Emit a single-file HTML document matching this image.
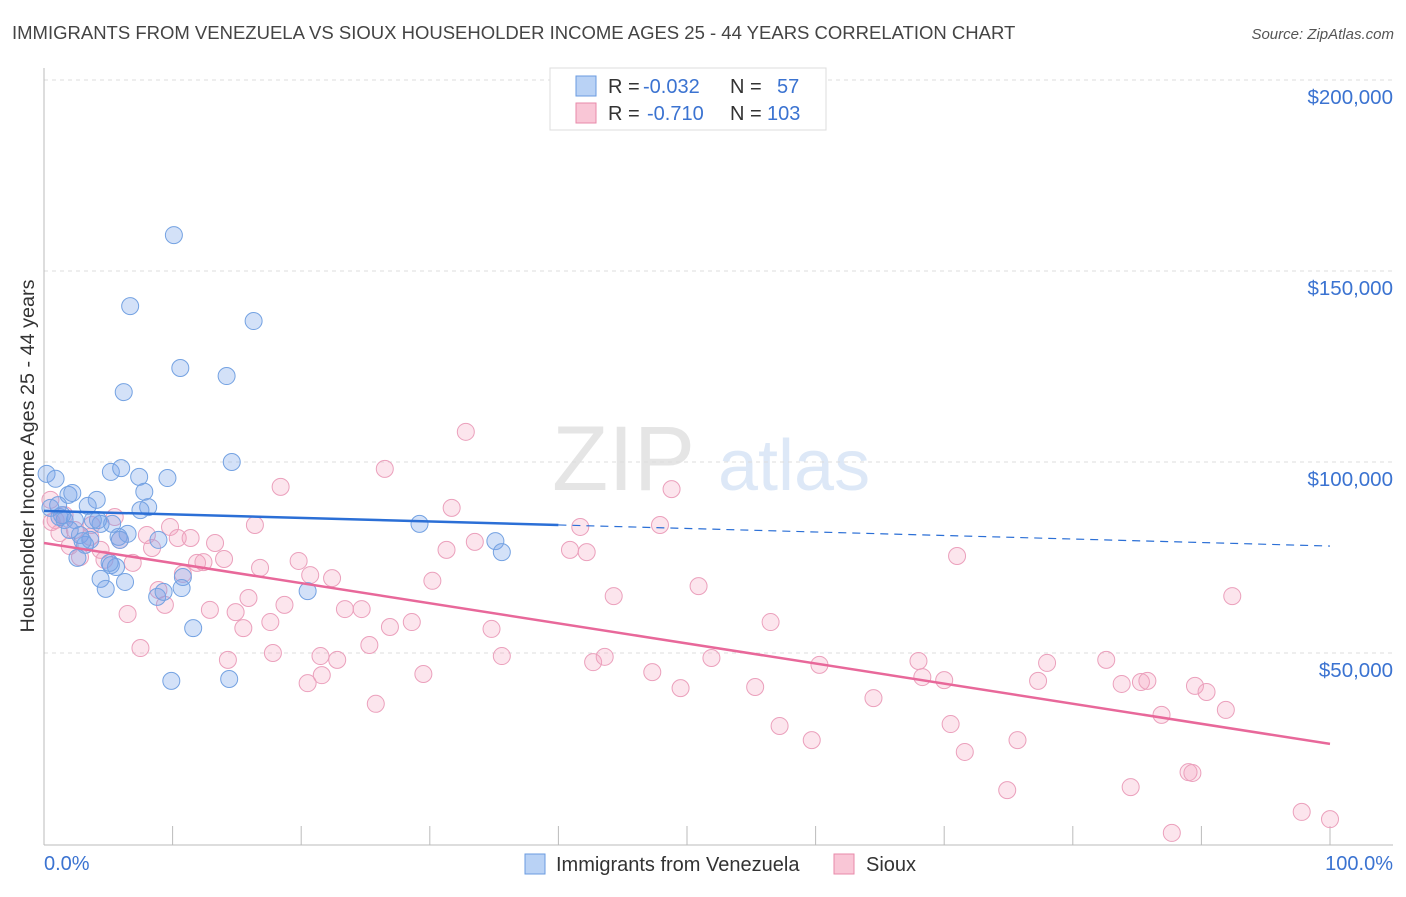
<!DOCTYPE html>
<html><head><meta charset="utf-8"><style>
body{margin:0;background:#fff;font-family:"Liberation Sans",sans-serif;}
svg text{font-family:"Liberation Sans",sans-serif;}
</style></head><body>
<svg id="chart" width="1406" height="892" viewBox="0 0 1406 892" xmlns="http://www.w3.org/2000/svg">
<text x="12" y="39" font-size="18.5" fill="#444">IMMIGRANTS FROM VENEZUELA VS SIOUX HOUSEHOLDER INCOME AGES 25 - 44 YEARS CORRELATION CHART</text>
<text x="1394" y="39" font-size="15" fill="#555" text-anchor="end" font-style="italic">Source: ZipAtlas.com</text>
<g opacity="0.25">
<text x="552" y="490" font-size="92" fill="#999" font-family="Liberation Serif">ZIP</text>
<text x="718" y="490" font-size="72" fill="#7aa7e0">atlas</text>
</g>
<g id="grid"></g>
<g id="axes"></g>
<g id="pts"></g>
<g id="trends"></g>
<text transform="translate(34,456) rotate(-90)" font-size="19.8" fill="#333" text-anchor="middle">Householder Income Ages 25 - 44 years</text>
<text x="44" y="870" font-size="20" fill="#3b73d1">0.0%</text>
<text x="1393" y="870" font-size="20" fill="#3b73d1" text-anchor="end">100.0%</text>
<g>
<rect x="550" y="68" width="276" height="62" fill="#fff" stroke="#ddd"/>
<rect x="576" y="76" width="20" height="20" fill="#b9d2f5" stroke="#6a9be0"/>
<rect x="576" y="103" width="20" height="20" fill="#f9c6d6" stroke="#e88aaa"/>
<text x="608" y="93" font-size="20" fill="#333">R =</text>
<text x="643" y="93" font-size="20" fill="#3b73d1">-0.032</text>
<text x="730" y="93" font-size="20" fill="#333">N =</text>
<text x="777" y="93" font-size="20" fill="#3b73d1">57</text>
<text x="608" y="120" font-size="20" fill="#333">R =</text>
<text x="647" y="120" font-size="20" fill="#3b73d1">-0.710</text>
<text x="730" y="120" font-size="20" fill="#333">N =</text>
<text x="767" y="120" font-size="20" fill="#3b73d1">103</text>
</g>
<g>
<rect x="525" y="854" width="20" height="20" fill="#b9d2f5" stroke="#6a9be0"/>
<text x="556" y="871" font-size="20" fill="#333">Immigrants from Venezuela</text>
<rect x="834" y="854" width="20" height="20" fill="#f9c6d6" stroke="#e88aaa"/>
<text x="866" y="871" font-size="20" fill="#333">Sioux</text>
</g>
</svg>
<script>
const yTicks=[50,100,150,200];
const yTickLabels=["$50,000","$100,000","$150,000","$200,000"];
const xTicks=[0,10,20,30,40,50,60,70,80,90,100];
const blueX=[0.2,0.9,0.5,1.2,1.9,2.2,1.6,2.4,1.4,4.1,3.4,2.8,3.2,3.6,2.6,4.4,5.3,5.8,6.5,5.2,6.0,7.4,7.8,8.1,7.5,9.6,8.9,4.4,4.8,6.3,5.2,5.6,8.8,9.3,10.8,10.7,11.6,9.9,14.4,10.1,6.7,16.3,10.6,14.2,6.2,14.6,29.2,35.1,35.6,20.5,3.8,2.0,1.1,3.0,5.1,5.9,4.2];
const blueY=[96.9,95.6,88.0,85.6,91.4,91.9,84.8,84.8,86.1,90.1,88.5,80.9,78.3,79.6,74.9,83.8,83.8,80.4,81.2,97.4,98.4,96.1,92.2,88.2,87.4,95.8,79.6,69.4,66.8,68.6,73.0,72.5,64.7,66.0,69.9,67.0,56.5,42.7,43.2,159.4,140.8,136.9,124.6,122.5,118.3,100.0,83.8,79.3,76.4,66.2,84.8,82.2,88.7,79.3,73.6,79.6,84.8];
const pinkX=[0.5,0.9,1.2,2.0,2.8,2.4,3.6,4.4,4.7,5.5,5.9,6.5,6.9,7.5,8.0,8.4,8.9,9.4,9.8,10.4,10.8,11.4,11.9,12.4,12.9,13.3,14.0,14.3,14.9,15.5,15.9,16.4,16.8,17.6,17.8,18.4,18.7,19.8,20.7,20.5,21.5,21.6,22.4,22.8,23.4,24.7,25.3,25.8,26.5,26.9,28.6,29.5,30.2,31.3,31.7,32.8,33.5,34.8,35.6,40.9,41.7,42.2,42.7,43.6,44.3,47.3,47.9,48.8,49.5,50.9,51.9,55.3,56.5,57.2,59.7,60.3,64.5,68.0,68.3,70.0,70.5,71.0,71.6,74.9,75.7,77.3,78.0,82.6,83.8,84.5,85.3,85.8,86.9,87.7,89.0,89.3,89.5,90.4,91.9,92.4,97.8,100,0.6,1.6,3.7];
const pinkY=[90.1,84.8,81.4,78.0,75.1,82.2,80.4,77.0,74.4,85.6,79.6,60.2,73.6,51.3,80.9,77.5,66.5,62.6,83.0,80.1,70.7,80.1,73.6,73.8,61.3,78.8,74.6,48.2,60.7,56.5,64.4,83.5,72.3,58.1,50.0,93.5,62.6,74.1,70.4,42.1,49.2,44.2,69.6,48.2,61.5,61.5,52.1,36.7,98.2,56.8,58.1,44.5,68.9,77.0,88.0,107.9,79.1,56.3,49.2,77.0,83.0,76.4,47.6,49.0,64.9,45.0,83.5,92.9,40.8,67.5,48.7,41.1,58.1,30.9,27.2,46.9,38.2,47.9,43.7,42.9,31.4,75.4,24.1,14.1,27.2,42.7,47.4,48.2,41.9,14.9,42.4,42.7,33.8,2.9,18.8,18.6,41.4,39.8,35.1,64.9,8.4,6.5,84.3,86.1,83.5];
const blueTrend=[87.2,78.0];
const pinkTrend=[78.8,26.2];
const NS="http://www.w3.org/2000/svg";
const X0=44,X1=1330,Y0=844,PXK=3.82;
function sx(v){return X0+(X1-X0)*v/100;}
function sy(v){return Y0-v*PXK;}
function mk(tag,attrs,parent){const e=document.createElementNS(NS,tag);for(const k in attrs)e.setAttribute(k,attrs[k]);parent.appendChild(e);return e;}
const grid=document.getElementById('grid'),axes=document.getElementById('axes'),pts=document.getElementById('pts'),tr=document.getElementById('trends');
yTicks.forEach((t,i)=>{
 const l=mk('line',{x1:X0,x2:1393,y1:sy(t),y2:sy(t),stroke:'#ddd','stroke-dasharray':'4,4'},grid);
 
 
 const tx=mk('text',{x:1393,y:sy(t)+24,'font-size':20.5,fill:'#3b73d1','text-anchor':'end'},axes);
 tx.textContent=yTickLabels[i];
 
 
});
const ax=mk('line',{x1:X0,x2:1393,y1:845,y2:845,stroke:'#bbb'},axes);


const ay=mk('line',{x1:X0,x2:X0,y1:68,y2:845,stroke:'#bbb'},axes);


xTicks.forEach(t=>{
 const l=mk('line',{x1:sx(t),x2:sx(t),y1:826,y2:845,stroke:'#bbb'},axes);
 
 
});
function dots(xs,ys,fill,stroke,name){
 xs.forEach((x,i)=>{
  const c=mk('circle',{cx:sx(x),cy:sy(ys[i]),r:8.5,fill:fill,stroke:stroke,'stroke-width':1},pts);
  
  
 });
}
dots(pinkX,pinkY,'rgba(244,160,190,0.28)','#eba0bc','sioux-point');
dots(blueX,blueY,'rgba(120,165,235,0.33)','#74a2e2','venezuela-point');
function at(t,x){return t[0]+(t[1]-t[0])*x/100;}
const b1=mk('line',{x1:sx(0),y1:sy(at(blueTrend,0)),x2:sx(40),y2:sy(at(blueTrend,40)),stroke:'#2b6fd6','stroke-width':2.5},tr);


const b2=mk('line',{x1:sx(40),y1:sy(at(blueTrend,40)),x2:sx(100),y2:sy(at(blueTrend,100)),stroke:'#2b6fd6','stroke-width':1.2,'stroke-dasharray':'8,6'},tr);


const p1=mk('line',{x1:sx(0),y1:sy(pinkTrend[0]),x2:sx(100),y2:sy(pinkTrend[1]),stroke:'#e8689a','stroke-width':2.5},tr);


</script>
</body></html>
